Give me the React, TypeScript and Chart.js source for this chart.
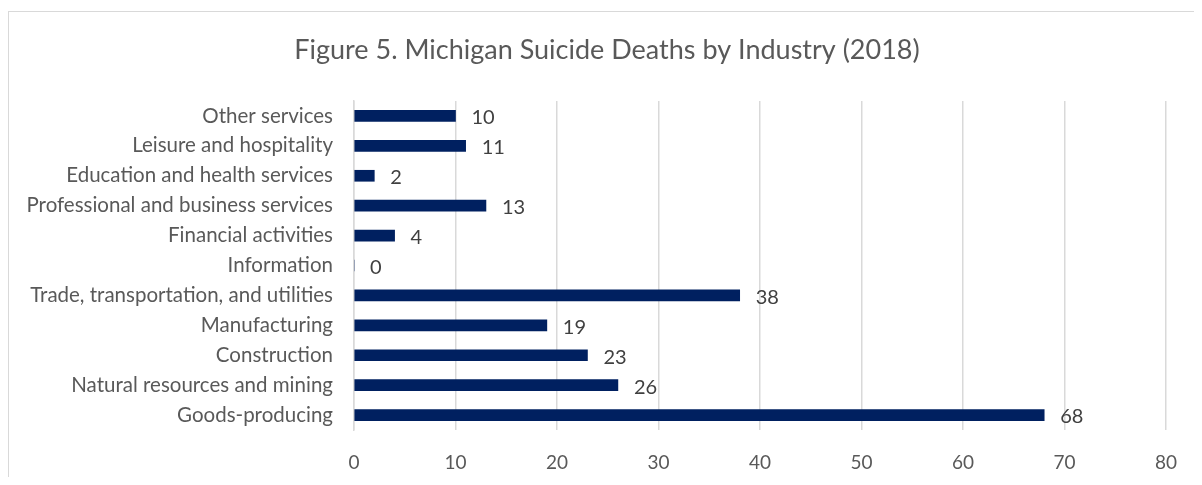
import React, { useEffect, useRef } from "react";
import { Chart, registerables } from "chart.js";

Chart.register(...registerables);

const categories = [
  "Other services",
  "Leisure and hospitality",
  "Education and health services",
  "Professional and business services",
  "Financial activities",
  "Information",
  "Trade, transportation, and utilities",
  "Manufacturing",
  "Construction",
  "Natural resources and mining",
  "Goods-producing",
];
const deaths = [10, 11, 2, 13, 4, 0, 38, 19, 23, 26, 68];
const xTicks = [0, 10, 20, 30, 40, 50, 60, 70, 80];
const titleText = "Figure 5. Michigan Suicide Deaths by Industry (2018)";

const FONT = "Lato, 'Open Sans', sans-serif";

const valueLabels = {
  id: "valueLabels",
  afterDatasetsDraw(chart: any) {
    const ctx = chart.ctx;
    const meta = chart.getDatasetMeta(0);
    ctx.save();
    ctx.font = `20px ${FONT}`;
    ctx.fillStyle = "#404040";
    ctx.textAlign = "left";
    ctx.textBaseline = "middle";
    meta.data.forEach((bar: any, i: number) => {
      ctx.fillText(String(deaths[i]), bar.x + 16, bar.y + 2);
    });
    ctx.restore();
  },
};

const chartTitle = {
  id: "chartTitle",
  afterDraw(chart: any) {
    const ctx = chart.ctx;
    ctx.save();
    ctx.font = `27px ${FONT}`;
    ctx.fillStyle = "#595959";
    ctx.textAlign = "center";
    ctx.textBaseline = "middle";
    ctx.fillText(titleText, 607, 50);
    ctx.restore();
  },
};

export default function App() {
  const ref = useRef<HTMLCanvasElement>(null);
  useEffect(() => {
    document.body.style.overflow = "hidden";
    const chart = new Chart(ref.current!, {
      type: "bar",
      data: {
        labels: categories,
        datasets: [
          {
            data: deaths,
            backgroundColor: "#002060",
            barThickness: 11,
          },
        ],
      },
      options: {
        indexAxis: "y",
        animation: false,
        responsive: false,
        layout: { padding: { left: 0, right: 36, top: 101, bottom: 0 } },
        plugins: {
          legend: { display: false },
          tooltip: { enabled: false },
          title: { display: false },
        },
        scales: {
          x: {
            min: 0,
            max: 80,
            afterBuildTicks(scale: any) {
              scale.ticks = xTicks.map((v) => ({ value: v }));
            },
            afterFit(scale: any) {
              scale.height = 55;
            },
            grid: { color: "#d9d9d9", lineWidth: 1.5, drawTicks: false },
            border: { display: false },
            ticks: {
              color: "#595959",
              font: { family: FONT, size: 19 },
              padding: 21,
            },
          },
          y: {
            afterFit(scale: any) {
              scale.width = 354;
            },
            grid: { display: false, drawTicks: false },
            border: { display: true, color: "#d9d9d9", width: 1.5 },
            ticks: {
              color: "#595959",
              font: { family: FONT, size: 20.5 },
              padding: 21,
              autoSkip: false,
            },
          },
        },
      },
      plugins: [valueLabels, chartTitle],
    });
    return () => chart.destroy();
  }, []);
  return (
    <div style={{ position: "relative", width: 1202, height: 485, margin: -8 }}>
      <div
        style={{
          position: "absolute",
          left: 8,
          top: 11,
          width: 1400,
          height: 600,
          border: "1.5px solid #d9d9d9",
          boxSizing: "border-box",
        }}
      />
      <canvas
        ref={ref}
        width={1202}
        height={485}
        style={{ position: "absolute", left: 0, top: 0, width: 1202, height: 485 }}
      />
    </div>
  );
}
